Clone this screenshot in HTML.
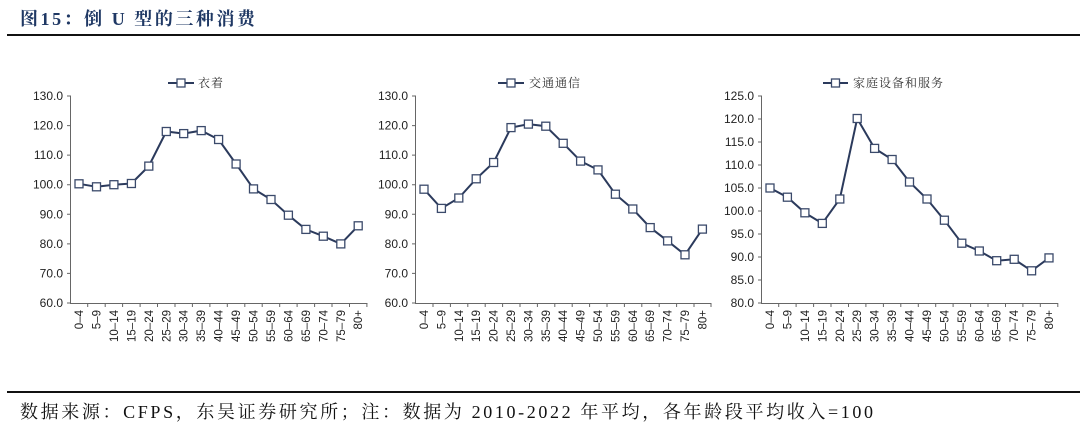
<!DOCTYPE html>
<html><head><meta charset="utf-8"><style>
html,body{margin:0;padding:0;background:#fff;width:1080px;height:428px;overflow:hidden}
svg{display:block}
.t{font-family:"Liberation Sans","Noto Sans CJK SC",sans-serif;font-size:12px;fill:#222}
.x{font-family:"Liberation Sans",sans-serif;font-size:11.5px;fill:#222}
.lg{font-family:"Noto Serif CJK SC","Noto Sans CJK SC",serif;font-size:12px;fill:#333;letter-spacing:1px}
</style></head><body>
<svg width="1080" height="428" viewBox="0 0 1080 428" xmlns="http://www.w3.org/2000/svg">
<defs>
<marker id="m" markerUnits="userSpaceOnUse" markerWidth="12" markerHeight="12" refX="6" refY="6"><rect x="2" y="2" width="8" height="8" fill="#fff" stroke="#3b4a6b" stroke-width="1.3"/></marker>
</defs>
<text x="20" y="25" textLength="235" lengthAdjust="spacing" style="font-family:'Liberation Serif','Noto Serif CJK SC',serif;font-size:18px;font-weight:bold;fill:#1f3864">图15：倒 U 型的三种消费</text>
<line x1="7" y1="35" x2="1080" y2="35" stroke="#111" stroke-width="2"/>
<line x1="7" y1="392" x2="1080" y2="392" stroke="#111" stroke-width="2"/>
<text x="20" y="418" textLength="853" lengthAdjust="spacing" style="font-family:'Liberation Serif','Noto Serif CJK SC',serif;font-size:18px;fill:#111">数据来源：CFPS，东吴证券研究所；注：数据为 2010-2022 年平均，各年龄段平均收入=100</text>

<!-- chart 1 -->
<g stroke="#666" stroke-width="1" fill="none">
<path d="M70.5 96V303.5H367.5"/>
<path d="M67 96h4M67 125.6h4M67 155.1h4M67 184.7h4M67 214.3h4M67 243.9h4M67 273.4h4M67 303h4"/>
<path d="M87.7 303v4M105.2 303v4M122.6 303v4M140.1 303v4M157.5 303v4M175 303v4M192.4 303v4M209.9 303v4M227.3 303v4M244.8 303v4M262.2 303v4M279.7 303v4M297.1 303v4M314.6 303v4M332 303v4M349.5 303v4M366.9 303v4"/>
</g>
<g class="t" text-anchor="end">
<text x="63" y="100">130.0</text><text x="63" y="129.6">120.0</text><text x="63" y="159.1">110.0</text><text x="63" y="188.7">100.0</text><text x="63" y="218.3">90.0</text><text x="63" y="247.9">80.0</text><text x="63" y="277.4">70.0</text><text x="63" y="307">60.0</text>
</g>
<polyline points="79,183.8 96.5,186.8 113.9,184.7 131.4,183.5 148.8,166.1 166.3,131.5 183.7,133.6 201.2,130.6 218.6,139.5 236.1,164 253.5,188.9 271,199.5 288.4,215.2 305.9,229.4 323.3,236.2 340.8,243.9 358.2,225.8" fill="none" stroke="#2b3a5c" stroke-width="2" marker-start="url(#m)" marker-mid="url(#m)" marker-end="url(#m)"/>
<line x1="168" y1="83" x2="194" y2="83" stroke="#2b3a5c" stroke-width="2"/><rect x="177" y="79" width="8" height="8" fill="#fff" stroke="#3b4a6b" stroke-width="1.3"/>
<text class="lg" x="198" y="87">衣着</text>
<g class="x" text-anchor="end">
<text transform="translate(83,310) rotate(-90)">0–4</text><text transform="translate(100.5,310) rotate(-90)">5–9</text><text transform="translate(117.9,310) rotate(-90)">10–14</text><text transform="translate(135.4,310) rotate(-90)">15–19</text><text transform="translate(152.8,310) rotate(-90)">20–24</text><text transform="translate(170.3,310) rotate(-90)">25–29</text><text transform="translate(187.7,310) rotate(-90)">30–34</text><text transform="translate(205.2,310) rotate(-90)">35–39</text><text transform="translate(222.6,310) rotate(-90)">40–44</text><text transform="translate(240.1,310) rotate(-90)">45–49</text><text transform="translate(257.5,310) rotate(-90)">50–54</text><text transform="translate(275,310) rotate(-90)">55–59</text><text transform="translate(292.4,310) rotate(-90)">60–64</text><text transform="translate(309.9,310) rotate(-90)">65–69</text><text transform="translate(327.3,310) rotate(-90)">70–74</text><text transform="translate(344.8,310) rotate(-90)">75–79</text><text transform="translate(362.2,310) rotate(-90)">80+</text>
</g>

<!-- chart 2 -->
<g stroke="#666" stroke-width="1" fill="none">
<path d="M415.5 96V303.5H711"/>
<path d="M412 96h4M412 125.6h4M412 155.1h4M412 184.7h4M412 214.3h4M412 243.9h4M412 273.4h4M412 303h4"/>
<path d="M433 303v4M450.4 303v4M467.8 303v4M485.2 303v4M502.6 303v4M520 303v4M537.4 303v4M554.8 303v4M572.2 303v4M589.6 303v4M607 303v4M624.4 303v4M641.8 303v4M659.2 303v4M676.6 303v4M694 303v4M711 303v4"/>
</g>
<g class="t" text-anchor="end">
<text x="408" y="100">130.0</text><text x="408" y="129.6">120.0</text><text x="408" y="159.1">110.0</text><text x="408" y="188.7">100.0</text><text x="408" y="218.3">90.0</text><text x="408" y="247.9">80.0</text><text x="408" y="277.4">70.0</text><text x="408" y="307">60.0</text>
</g>
<polyline points="424,189.2 441.4,208.4 458.8,198 476.2,178.8 493.6,162.5 511,127.6 528.4,124.1 545.8,126.2 563.2,143.3 580.6,161.1 598,169.9 615.4,194.2 632.8,209 650.2,227.6 667.6,240.9 685,254.8 702.4,229.1" fill="none" stroke="#2b3a5c" stroke-width="2" marker-start="url(#m)" marker-mid="url(#m)" marker-end="url(#m)"/>
<line x1="498" y1="83" x2="524" y2="83" stroke="#2b3a5c" stroke-width="2"/><rect x="507" y="79" width="8" height="8" fill="#fff" stroke="#3b4a6b" stroke-width="1.3"/>
<text class="lg" x="529" y="87">交通通信</text>
<g class="x" text-anchor="end">
<text transform="translate(428,310) rotate(-90)">0–4</text><text transform="translate(445.4,310) rotate(-90)">5–9</text><text transform="translate(462.8,310) rotate(-90)">10–14</text><text transform="translate(480.2,310) rotate(-90)">15–19</text><text transform="translate(497.6,310) rotate(-90)">20–24</text><text transform="translate(515,310) rotate(-90)">25–29</text><text transform="translate(532.4,310) rotate(-90)">30–34</text><text transform="translate(549.8,310) rotate(-90)">35–39</text><text transform="translate(567.2,310) rotate(-90)">40–44</text><text transform="translate(584.6,310) rotate(-90)">45–49</text><text transform="translate(602,310) rotate(-90)">50–54</text><text transform="translate(619.4,310) rotate(-90)">55–59</text><text transform="translate(636.8,310) rotate(-90)">60–64</text><text transform="translate(654.2,310) rotate(-90)">65–69</text><text transform="translate(671.6,310) rotate(-90)">70–74</text><text transform="translate(689,310) rotate(-90)">75–79</text><text transform="translate(706.4,310) rotate(-90)">80+</text>
</g>

<!-- chart 3 -->
<g stroke="#666" stroke-width="1" fill="none">
<path d="M761.5 96V303.5H1058"/>
<path d="M758 96h4M758 119h4M758 142h4M758 165h4M758 188h4M758 211h4M758 234h4M758 257h4M758 280h4M758 303h4"/>
<path d="M778.7 303v4M796.1 303v4M813.6 303v4M831 303v4M848.5 303v4M865.9 303v4M883.4 303v4M900.8 303v4M918.3 303v4M935.7 303v4M953.1 303v4M970.6 303v4M988 303v4M1005.5 303v4M1022.9 303v4M1040.3 303v4M1057.8 303v4"/>
</g>
<g class="t" text-anchor="end">
<text x="754" y="100">125.0</text><text x="754" y="123">120.0</text><text x="754" y="146">115.0</text><text x="754" y="169">110.0</text><text x="754" y="192">105.0</text><text x="754" y="215">100.0</text><text x="754" y="238">95.0</text><text x="754" y="261">90.0</text><text x="754" y="284">85.0</text><text x="754" y="307">80.0</text>
</g>
<polyline points="770,188 787.4,197.2 804.9,212.8 822.3,223.4 839.8,199 857.2,118.5 874.6,148.4 892.1,159.5 909.5,182 927,199 944.4,220.2 961.8,243.2 979.3,251 996.7,260.7 1014.2,259.3 1031.6,270.8 1049,257.9" fill="none" stroke="#2b3a5c" stroke-width="2" marker-start="url(#m)" marker-mid="url(#m)" marker-end="url(#m)"/>
<line x1="823" y1="83" x2="848" y2="83" stroke="#2b3a5c" stroke-width="2"/><rect x="831.5" y="79" width="8" height="8" fill="#fff" stroke="#3b4a6b" stroke-width="1.3"/>
<text class="lg" x="853" y="87">家庭设备和服务</text>
<g class="x" text-anchor="end">
<text transform="translate(774,310) rotate(-90)">0–4</text><text transform="translate(791.4,310) rotate(-90)">5–9</text><text transform="translate(808.9,310) rotate(-90)">10–14</text><text transform="translate(826.3,310) rotate(-90)">15–19</text><text transform="translate(843.8,310) rotate(-90)">20–24</text><text transform="translate(861.2,310) rotate(-90)">25–29</text><text transform="translate(878.6,310) rotate(-90)">30–34</text><text transform="translate(896.1,310) rotate(-90)">35–39</text><text transform="translate(913.5,310) rotate(-90)">40–44</text><text transform="translate(931,310) rotate(-90)">45–49</text><text transform="translate(948.4,310) rotate(-90)">50–54</text><text transform="translate(965.8,310) rotate(-90)">55–59</text><text transform="translate(983.3,310) rotate(-90)">60–64</text><text transform="translate(1000.7,310) rotate(-90)">65–69</text><text transform="translate(1018.2,310) rotate(-90)">70–74</text><text transform="translate(1035.6,310) rotate(-90)">75–79</text><text transform="translate(1053,310) rotate(-90)">80+</text>
</g>
</svg>
</body></html>
